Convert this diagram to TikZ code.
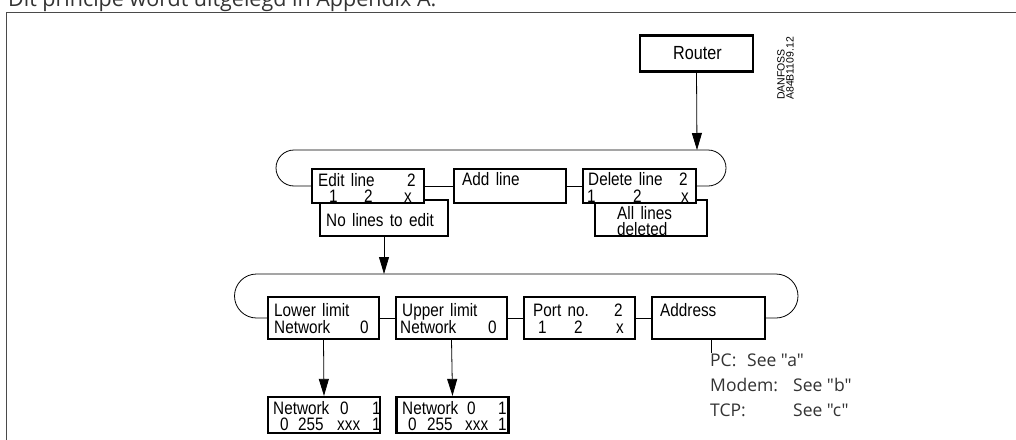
\documentclass[tikz,border=0pt]{standalone}
\usepackage{fontspec}
\usetikzlibrary{arrows.meta,calc}
\newfontfamily\cadfont[FakeStretch=0.85,WordSpace=1.5]{Liberation Sans}
\newfontfamily\capfont{Open Sans}
\newfontfamily\labfont{Liberation Sans}
\definecolor{framegray}{HTML}{4A4A4A}
\definecolor{textgray}{HTML}{333333}
\begin{document}
\begin{tikzpicture}[x=1pt,y=1pt,
  scrbox/.style={draw, line width=2.2pt, fill=white, inner sep=0pt, minimum height=34pt},
  cad/.style={font=\cadfont\fontsize{18}{18}\selectfont, anchor=base west, inner sep=0pt},
  side/.style={font=\capfont\fontsize{17.5}{20}\selectfont, text=textgray, anchor=base west, inner sep=0pt},
  conn/.style={line width=0.8pt},
  arr/.style={conn, -{Triangle[length=17pt,width=10pt]}}]
\useasboundingbox (0,0) rectangle (1016,-439);
% frame and caption
\draw[framegray, line width=1.3pt] (1017,-12.7) -- (6.7,-12.7) -- (6.7,-440);
\node[font=\capfont\fontsize{21.5}{24}\selectfont, text=textgray, anchor=base west, inner sep=0pt] (caption) at (8,-6) {Dit principe wordt uitgelegd in Appendix A.};
% identification
\node[font=\labfont\fontsize{10.5}{9}\selectfont, rotate=90, anchor=north west, align=left, inner sep=0pt] (ident) at (777,-100) {DANFOSS\\A84B1109.12};
% router
\node[scrbox, minimum width=113pt, minimum height=36pt] (router) at (696.5,-53.5) {};
\node[cad, font=\cadfont\fontsize{19}{19}\selectfont] (routert) at (673,-59) {Router};
% upper row
\coordinate (top1) at (697,-150);
\node[scrbox, minimum width=128pt, minimum height=36pt] (nolines) at (384,-218) {};
\node[scrbox, minimum width=112pt, minimum height=36pt] (alllines) at (651,-218) {};
\node[scrbox, minimum width=112pt] (edit) at (368,-186) {};
\node[scrbox, minimum width=112pt] (add) at (510,-186) {};
\node[scrbox, minimum width=113pt] (delete) at (639.5,-186) {};
\draw[conn] (edit.west) -- (294,-186) arc[start angle=270, end angle=90, radius=18] -- (708,-150) arc[start angle=90, end angle=-90, radius=18] -- (delete.east);
\draw[conn] (edit.east) -- (add.west);
\draw[conn] (add.east) -- (delete.west);
\draw[arr] (router.south) -- (top1);
\node[cad] (e1) at (318,-186) {Edit line};
\node[cad] (e2) at (407,-186) {2};
\node[cad] (e3) at (329,-202) {1};
\node[cad] (e4) at (364,-202) {2};
\node[cad] (e5) at (404,-202) {x};
\node[cad] (a1) at (462,-185) {Add line};
\node[cad] (d1) at (588,-185) {Delete line};
\node[cad] (d2) at (679,-185) {2};
\node[cad] (d3) at (587,-202) {1};
\node[cad] (d4) at (633,-202) {2};
\node[cad] (d5) at (681,-202) {x};
\node[cad] (n1) at (326,-226) {No lines to edit};
\node[cad] (l1) at (617,-219.5) {All lines};
\node[cad] (l2) at (617,-235) {deleted};
% lower row
\coordinate (top2) at (384,-274);
\node[scrbox, minimum width=111pt, minimum height=42pt] (lower) at (323.5,-318) {};
\node[scrbox, minimum width=111pt, minimum height=42pt] (upper) at (451.5,-318) {};
\node[scrbox, minimum width=111pt, minimum height=42pt] (port) at (579.5,-318) {};
\node[scrbox, minimum width=113pt, minimum height=42pt] (address) at (708.5,-318) {};
\draw[conn] (lower.west) -- (256.5,-318) arc[start angle=270, end angle=90, radius=22] -- (776,-274) arc[start angle=90, end angle=-90, radius=22] -- (address.east);
\draw[conn] (lower.east) -- (upper.west);
\draw[conn] (upper.east) -- (port.west);
\draw[conn] (port.east) -- (address.west);
\draw[arr] (nolines.south) -- (top2);
\node[cad] (lo1) at (274,-316) {Lower limit};
\node[cad] (lo2) at (274,-333) {Network};
\node[cad] (lo3) at (360,-333) {0};
\node[cad] (up1) at (402,-316) {Upper limit};
\node[cad] (up2) at (400,-333) {Network};
\node[cad] (up3) at (488,-333) {0};
\node[cad] (p1) at (533,-316) {Port no.};
\node[cad] (p2) at (614,-316) {2};
\node[cad] (p3) at (538,-333) {1};
\node[cad] (p4) at (574,-333) {2};
\node[cad] (p5) at (616,-333) {x};
\node[cad] (ad1) at (660,-316) {Address};
% bottom boxes
\node[scrbox, minimum width=112pt, minimum height=36pt] (bot1) at (324,-415) {};
\node[scrbox, minimum width=112pt, minimum height=36pt] (bot2) at (452.5,-415) {};
\draw[arr] (lower.south) -- (bot1.north);
\draw[arr] (upper.south) -- (bot2.north);
\node[cad] (b11) at (273,-414) {Network};
\node[cad] (b12) at (340,-414) {0};
\node[cad] (b13) at (372,-414) {1};
\node[cad] (b14) at (280,-430) {0};
\node[cad] (b15) at (298,-430) {255};
\node[cad] (b16) at (337,-430) {xxx};
\node[cad] (b17) at (372,-430) {1};
\node[cad] (b21) at (402,-414) {Network};
\node[cad] (b22) at (467,-414) {0};
\node[cad] (b23) at (498,-414) {1};
\node[cad] (b24) at (408,-430) {0};
\node[cad] (b25) at (427,-430) {255};
\node[cad] (b26) at (465,-430) {xxx};
\node[cad] (b27) at (498,-430) {1};
% address options
\coordinate (addrend) at (711.5,-353);
\draw[conn] (address.south -| addrend) -- (addrend);
\node[side] (s1) at (710,-366) {PC:};
\node[side] (s2) at (747,-366) {See "a"};
\node[side] (s3) at (710,-391) {Modem:};
\node[side] (s4) at (793,-391) {See "b"};
\node[side] (s5) at (710,-416) {TCP:};
\node[side] (s6) at (793,-416) {See "c"};
\end{tikzpicture}
\end{document}
